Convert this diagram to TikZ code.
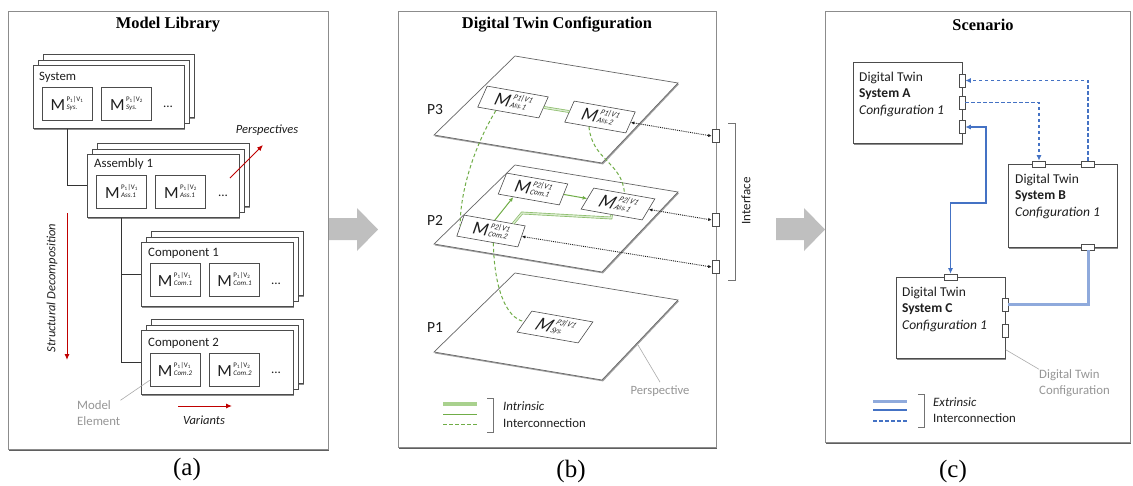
\documentclass[tikz,border=0pt]{standalone}
\usepackage{fontspec}
\setmainfont{Liberation Serif}
\setsansfont{Carlito}
\usetikzlibrary{arrows.meta,calc,shadows}
\definecolor{redA}{RGB}{192,0,0}
\definecolor{gS}{RGB}{112,173,71}
\definecolor{gL}{RGB}{169,209,142}
\definecolor{bS}{RGB}{68,114,196}
\definecolor{bL}{RGB}{143,170,220}
\definecolor{grT}{RGB}{150,150,150}
\definecolor{frm}{RGB}{140,140,140}
\definecolor{shd}{RGB}{95,95,95}
\definecolor{garrow}{RGB}{191,191,191}
\definecolor{txt}{RGB}{30,30,30}
\newcommand{\fsz}[2]{\fontsize{#1}{#2}\selectfont}
\newcommand{\mA}[3]{{\fsz{17}{17}M}\hspace{1.5pt}\raisebox{1.2pt}{\fsz{7}{8.2}\begin{tabular}[b]{@{}l@{}}P\textsubscript{#1}|V\textsubscript{#2}\\\textit{#3}\end{tabular}}\hspace{8pt}}
\newcommand{\mB}[2]{{\fsz{18}{18}M}\hspace{1pt}\raisebox{0.6pt}{\fsz{7.4}{7.8}\itshape\begin{tabular}[b]{@{}l@{}}#1\\#2\end{tabular}}}
\tikzset{
  every node/.style={font=\sffamily\fsz{12.8}{15}, text=txt},
  ttl/.style={font=\rmfamily\bfseries\fsz{16.4}{18}, text=black},
  capt/.style={font=\rmfamily\fsz{25}{28}, text=black},
  panelfr/.style={draw=frm, fill=white, line width=0.8pt},
  stk/.style={draw=black!70, fill=white, line width=0.7pt, inner sep=0pt, drop shadow={shadow xshift=1pt, shadow yshift=-1.2pt, fill=black, opacity=0.45}},
  mel/.style={draw=black!70, fill=white, line width=0.6pt, inner sep=0pt, minimum width=50pt, minimum height=33pt},
  elli/.style={font=\sffamily\fsz{13}{13}, inner sep=0pt},
  lbl/.style={anchor=west, inner sep=0pt, font=\sffamily\fsz{12.8}{15}},
  itl/.style={font=\sffamily\itshape\fsz{12.5}{15}, inner sep=0pt},
  redarr/.style={draw=redA, line width=1pt, -{Latex[length=6pt,width=5pt]}},
  conn/.style={draw=black!80, line width=0.9pt},
  gtxt/.style={text=grT},
  gline/.style={draw=grT!80, line width=0.6pt},
  pmbox/.style={draw=black!70, fill=white, line width=0.6pt, inner sep=0pt, minimum width=62pt, minimum height=21pt, transform shape},
  plbl/.style={font=\sffamily\fsz{15.5}{16}},
  gdbl/.style={draw=gS!85, double=gL!45, double distance=1.4pt, line width=0.65pt},
  gsol/.style={draw=gS, line width=1pt},
  gdash/.style={draw=gS, line width=1pt, dash pattern=on 3.5pt off 2.5pt},
  dotarr/.style={draw=black!90, line width=0.9pt, densely dotted, {Latex[length=3.5pt,width=3.2pt]}-{Latex[length=3.5pt,width=3.2pt]}},
  portbox/.style={draw=black!70, fill=white, line width=0.6pt, inner sep=0pt},
  vport/.style={portbox, minimum width=6pt, minimum height=13pt},
  hport/.style={portbox, minimum width=13pt, minimum height=6pt},
  brk/.style={draw=black!55, line width=0.7pt},
  dtbox/.style={draw=black!70, fill=white, line width=0.7pt, inner sep=0pt, anchor=north west, drop shadow={shadow xshift=1pt, shadow yshift=-1.2pt, fill=black, opacity=0.45}},
  dttxt/.style={align=left, inner sep=0pt, anchor=north west, font=\sffamily\fsz{13.5}{16.5}},
  bdash/.style={draw=bS, line width=1.1pt, dash pattern=on 3.5pt off 2.5pt, -{Latex[length=5.5pt,width=5pt]}},
  bsol/.style={draw=bS, line width=1.1pt},
  bthick/.style={draw=bL, line width=3pt},
  gthick/.style={draw=gL, line width=3.5pt},
  legtxt/.style={align=left, anchor=west, inner sep=0pt, font=\sffamily\fsz{12.8}{16.5}},
}
\newcommand{\stackbox}[5]{%
 \node[stk, anchor=north west, minimum width=#4pt, minimum height=#5pt] (#1bb) at ($(#2,#3)+(10,-11)$) {};
 \node[stk, anchor=north west, minimum width=#4pt, minimum height=#5pt] (#1b) at ($(#2,#3)+(5,-5.5)$) {};
 \node[stk, anchor=north west, minimum width=#4pt, minimum height=#5pt] (#1) at (#2,#3) {};}
\newcommand{\drawplane}[1]{\begin{scope}[shift={(0,#1)}]
 \fill[shd!60] (515.5,57.2) -- (679,84.2) -- (603,164.4) -- (434.6,136.4) -- cycle;
 \filldraw[draw=black!60, fill=white, line width=0.7pt] (515,56) -- (678,83) -- (602,163) -- (434,135) -- cycle;
 \end{scope}}
\newcommand{\pmel}[6]{\begin{scope}[cm={0.985,-0.174,#4,1,(#2,#3)}]\node[pmbox] (#1) at (0,0) {\mB{#5}{#6}};\end{scope}}
\begin{document}
\begin{tikzpicture}[x=1pt,y=-1pt]
\useasboundingbox (0,0) rectangle (1133,485);
% ---------- panel frames ----------
\fill[shd] (9,12.5) rectangle (329,450.8);
\filldraw[panelfr] (8,11) rectangle (328,449);
\fill[shd] (399,12.5) rectangle (717,448.8);
\filldraw[panelfr] (398,11) rectangle (716,447);
\fill[shd] (826,12.5) rectangle (1131,443.8);
\filldraw[panelfr] (825,11) rectangle (1130,442);
% big arrows
\fill[garrow] (329,218) -- (357,218) -- (357,208) -- (378,229.5) -- (357,251) -- (357,240) -- (329,240) -- cycle;
\fill[garrow] (776,218) -- (804,218) -- (804,208) -- (825,229.5) -- (804,251) -- (804,240) -- (776,240) -- cycle;
% titles
\node[ttl] (tA) at (168,25) {Model Library};
\node[ttl] (tB) at (557,25) {Digital Twin Configuration};
\node[ttl] (tC) at (983,25) {Scenario};
% captions
\node[capt] (capA) at (187,469) {(a)};
\node[capt] (capB) at (571,471) {(b)};
\node[capt] (capC) at (953,471) {(c)};
% ---------- panel (a) ----------
\stackbox{sys}{33}{65}{151}{63}
\stackbox{asm}{87}{154}{152}{63}
\stackbox{cA}{141}{242}{152}{64}
\stackbox{cB}{141}{330}{152}{64}
\node[lbl] (sysl) at (39,77) {System};
\node[lbl] (asml) at (94,164) {Assembly 1};
\node[lbl] (cAl) at (148,253) {Component 1};
\node[lbl] (cBl) at (148,343) {Component 2};
\node[mel] (sm1) at (67,103.5) {\mA{1}{1}{Sys.}};
\node[mel] (sm2) at (126.5,103.5) {\mA{1}{2}{Sys.}};
\node[elli] (sd) at (168,107) {...};
\node[mel] (am1) at (121.5,192) {\mA{1}{1}{Ass.1}};
\node[mel] (am2) at (180.5,192) {\mA{1}{2}{Ass.1}};
\node[elli] (ad) at (223,196) {...};
\node[mel] (c1m1) at (175,280) {\mA{1}{1}{Com.1}};
\node[mel] (c1m2) at (234.5,280) {\mA{1}{2}{Com.1}};
\node[elli] (c1d) at (276,284) {...};
\node[mel] (c2m1) at (175,369.5) {\mA{1}{1}{Com.2}};
\node[mel] (c2m2) at (234.5,369.5) {\mA{1}{2}{Com.2}};
\node[elli] (c2d) at (276,373) {...};
\draw[conn] ($(sys.south west)+(34,0)$) |- (asm.west);
\draw[conn] ($(asm.south west)+(34,0)$) |- (cA.west);
\draw[conn] ($(asm.south west)+(34,0)$) |- (cB.west);
\coordinate (pe0) at (230,178); \coordinate (pe1) at (263,145);
\draw[redarr] (pe0) -- (pe1);
\node[itl] (pel) at (267,130) {Perspectives};
\coordinate (sd0) at (67,213); \coordinate (sd1) at (67,360);
\draw[redarr] (sd0) -- (sd1);
\node[itl, rotate=90] (sdl) at (52,288) {Structural Decomposition};
\coordinate (va0) at (178,406); \coordinate (va1) at (232,406);
\draw[redarr] (va0) -- (va1);
\node[itl] (val) at (204,420) {Variants};
\node[gtxt, legtxt, font=\sffamily\fsz{12.8}{16}] (melab) at (77,413) {Model\\Element};
\draw[gline] (melab.north east) -- ($(c2m1.south west)+(0,-6)$);
% ---------- panel (b) ----------
\drawplane{0}
\drawplane{109}
\drawplane{217}
\node[plbl] (lp3) at (435,110) {P3};
\node[plbl] (lp2) at (435,220) {P2};
\node[plbl] (lp1) at (435,328) {P1};
\pmel{p3a}{513}{102}{0.45}{P1|V1}{Ass.1}
\pmel{p3b}{600}{117}{0.45}{P1|V1}{Ass.2}
\pmel{p2c1}{533}{189}{0.4}{P2|V1}{Com.1}
\pmel{p2a1}{618}{204}{0.6}{P2|V1}{Ass.1}
\pmel{p2c2}{491}{231}{0.35}{P2|V1}{Com.2}
\pmel{p1s}{555}{327}{0.7}{P3|V1}{Sys.}
\draw[gdbl] (p3a.east) -- (p3b.west);
\draw[gsol, -{Latex[length=4.5pt,width=4pt]}] (p2c2.north) -- ($(p2c1.south west)!0.25!(p2c1.south east)$);
\draw[gsol, -{Latex[length=4.5pt,width=4pt]}] (p2c1.east) -- (p2a1.west);
\draw[gdbl] ($(p2c2.north west)!0.8!(p2c2.north east)$) -- (522,213) -- (611,218) -- (p2a1.south);
\draw[gdash] ($(p3a.south west)!0.3!(p3a.south east)$) .. controls (472,150) and (460,195) .. (p2c2.west);
\draw[gdash] ($(p3b.south west)!0.4!(p3b.south east)$) .. controls (592,160) and (622,162) .. (p2a1.north);
\draw[gdash] ($(p2c2.south west)!0.6!(p2c2.south east)$) .. controls (494,285) and (505,318) .. (p1s.west);
\node[vport, minimum width=7pt] (port1) at (715.5,136) {};
\node[vport, minimum width=7pt] (port2) at (715.5,220) {};
\node[vport, minimum width=7pt] (port3) at (715.5,267) {};
\draw[dotarr] (p3b.east) -- (port1.west);
\draw[dotarr] (p2a1.east) -- (port2.west);
\draw[dotarr] (p2c2.east) -- (port3.west);
\draw[brk] (728,123) -- (735,123) -- (735,280) -- (728,280);
\node[rotate=90, font=\sffamily\fsz{13}{15}] (ifl) at (746,201) {Interface};
\node[gtxt, font=\sffamily\fsz{12.6}{15}] (persp) at (660,391) {Perspective};
\coordinate (perspPt) at (638,345);
\draw[gline] (perspPt) -- (persp.north);
\coordinate (lg1a) at (443,404); \coordinate (lg1b) at (477,404);
\coordinate (lg2a) at (443,414); \coordinate (lg2b) at (477,414);
\coordinate (lg3a) at (443,424); \coordinate (lg3b) at (477,424);
\draw[gthick] (lg1a) -- (lg1b);
\draw[gsol] (lg2a) -- (lg2b);
\draw[gdash] (lg3a) -- (lg3b);
\draw[brk] (487,398) -- (493,398) -- (493,432) -- (487,432);
\node[legtxt] (legB) at (503,414.5) {\textit{Intrinsic}\\Interconnection};
% ---------- panel (c) ----------
\node[dtbox, minimum width=109pt, minimum height=81pt] (A) at (853,62) {};
\node[dttxt] (At) at (859,71.5) {Digital Twin\\\textbf{System A}\\\textit{Configuration 1}};
\node[dtbox, minimum width=109pt, minimum height=83pt] (B) at (1008,164) {};
\node[dttxt] (Bt) at (1015,173.5) {Digital Twin\\\textbf{System B}\\\textit{Configuration 1}};
\node[dtbox, minimum width=109pt, minimum height=81pt] (C) at (896,277) {};
\node[dttxt] (Ct) at (902,286.5) {Digital Twin\\\textbf{System C}\\\textit{Configuration 1}};
\node[vport] (A1) at (962,80.5) {};
\node[vport] (A2) at (962,102.5) {};
\node[vport] (A3) at (962,127) {};
\node[hport] (B1) at (1039,164) {};
\node[hport] (B2) at (1088,164) {};
\node[hport] (B3) at (1088,247) {};
\node[hport] (C1) at (950.5,277) {};
\node[vport] (C2) at (1005,304.5) {};
\node[vport] (C3) at (1005,331) {};
\draw[bdash] (B2.north) |- (A1.east);
\draw[bdash] (A2.east) -| (B1.north);
\draw[bsol, {Latex[length=5.5pt,width=5pt]}-{Latex[length=5.5pt,width=5pt]}] (C1.north) |- (986,203) |- (A3.east);
\draw[bthick] (B3.south) |- (C2.east);
\node[gtxt, legtxt, font=\sffamily\fsz{12.8}{16}] (dtc) at (1039,383) {Digital Twin\\Configuration};
\draw[gline] ($(C.south east)+(0,-9)$) -- (dtc.north west);
\coordinate (lc1a) at (873,401); \coordinate (lc1b) at (907,401);
\coordinate (lc2a) at (873,410); \coordinate (lc2b) at (907,410);
\coordinate (lc3a) at (873,421); \coordinate (lc3b) at (907,421);
\draw[bthick] (lc1a) -- (lc1b);
\draw[bsol] (lc2a) -- (lc2b);
\draw[bsol, dash pattern=on 3.5pt off 2.5pt] (lc3a) -- (lc3b);
\draw[brk] (918,394) -- (924,394) -- (924,427) -- (918,427);
\node[legtxt] (legC) at (933,410) {\textit{Extrinsic}\\Interconnection};
\end{tikzpicture}
\end{document}
